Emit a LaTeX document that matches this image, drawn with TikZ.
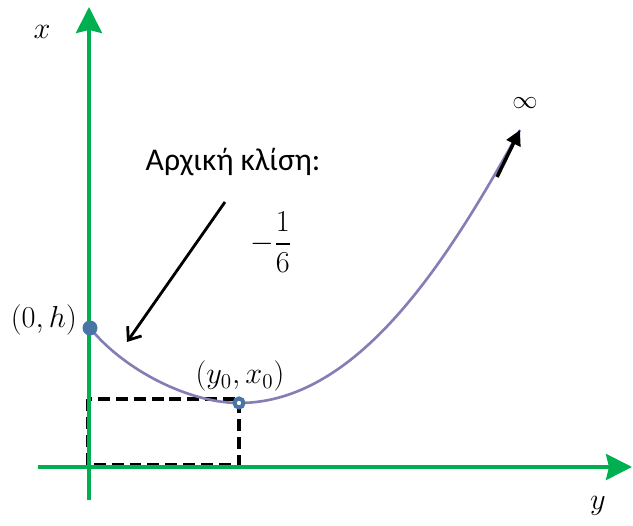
\documentclass[tikz,border=0pt]{standalone}
\usepackage{amsmath}
\usepackage{fontspec}
\newfontfamily\greekfont{Carlito}
\usepackage{xcolor}
\definecolor{axisgreen}{RGB}{0, 176, 80}
\definecolor{curvelav}{RGB}{132, 126, 182}
\definecolor{markblue}{RGB}{72, 116, 166}
\usepackage{tikz}
\usetikzlibrary{
    arrows.meta,
    positioning,
    calc
}

\begin{document}
\begin{tikzpicture}[
    >=Stealth,
    every text node part/.style={align=center},
    axis/.style={draw=axisgreen, line width=2pt, -{Stealth[length=0.52cm, width=0.52cm, inset=0.06cm]}},
    axlabel/.style={font=\fontsize{18}{21}\selectfont, inner sep=0pt},
    ptlabel/.style={font=\fontsize{17}{20}\selectfont, inner sep=0pt},
    guide/.style={draw=black, line width=2.3pt, dash pattern=on 6.8pt off 3.4pt},
    curve/.style={draw=curvelav, line width=1.5pt},
    fullmark/.style={circle, fill=markblue, inner sep=0pt, minimum size=0.3cm},
    ringmark/.style={circle, draw=markblue, fill=white, line width=0.08cm, inner sep=0pt, minimum size=0.18cm}
]
\useasboundingbox (0,0) rectangle (12.66,10.52);

% ==================== DASHED BOX ====================
\draw[guide] (1.76,2.54) rectangle (4.78,1.22);

% ==================== AXES ====================
\coordinate (vbot) at (1.78,0.52);
\coordinate (vtop) at (1.78,10.38);
\coordinate (hleft) at (0.76,1.18);
\coordinate (hright) at (12.64,1.18);
\draw[axis] (vbot) -- (vtop);
\draw[axis] (hleft) -- (hright);
\node[axlabel] (xlab) at (0.84,9.88) {$x$};
\node[axlabel] (ylab) at (11.96,0.40) {$y$};

% ==================== CURVE ====================
\coordinate (start) at (1.80,3.96);
\coordinate (vertex) at (4.78,2.46);
\coordinate (tail) at (9.94,6.98);
\coordinate (top) at (10.40,7.92);
\draw[curve] (start) .. controls (2.5,3.1) and (3.8,2.46) .. (vertex)
    .. controls (7.2,2.46) and (9.0,5.4) .. (top);
\draw[black, line width=2pt, -{Triangle[length=0.3cm, width=0.3cm]}] (tail) -- (top);
\node[font=\fontsize{15}{18}\selectfont, inner sep=0pt] (inf) at (10.50,8.46) {$\infty$};

\node[fullmark] (p0) at (start) {};
\node[ringmark] (p1) at (vertex) {};
\node[ptlabel, left=0.1cm of p0, yshift=0.16cm] (p0lab) {$(0,h)$};
\node[ptlabel] (p1lab) at (4.80,3.00) {$(y_0,x_0)$};

% ==================== INITIAL SLOPE ====================
\node[font=\greekfont\fontsize{18}{21}\selectfont] (slope) at (4.66,7.28) {Αρχική κλίση:};
\node[ptlabel] (slopeval) at (5.42,5.68) {$-\dfrac{1}{6}$};
\coordinate (sfrom) at (4.50,6.48);
\coordinate (sto) at (2.54,3.68);
\draw[black, line width=1.6pt, -{Straight Barb[length=0.22cm, width=0.34cm]}] (sfrom) -- (sto);

\end{tikzpicture}
\end{document}
